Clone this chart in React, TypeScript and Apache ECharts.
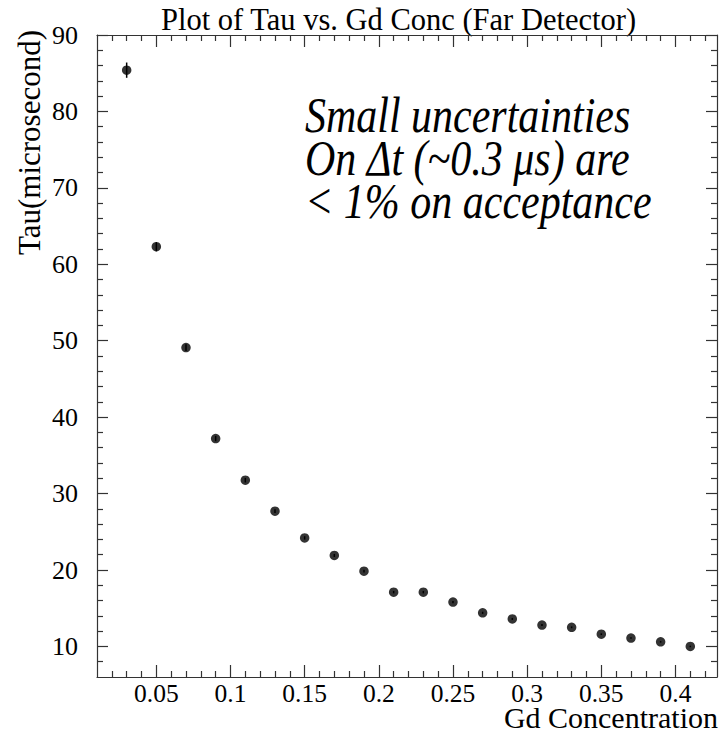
import React, { useEffect, useRef } from "react";
import * as echarts from "echarts";

// Gd concentration (x) and measured capture time Tau in microseconds (y)
const gdConc = [0.03, 0.05, 0.07, 0.09, 0.11, 0.13, 0.15, 0.17, 0.19, 0.21, 0.23, 0.25, 0.27, 0.29, 0.31, 0.33, 0.35, 0.37, 0.39, 0.41];
const tau = [85.4, 62.3, 49.1, 37.2, 31.75, 27.7, 24.2, 21.9, 19.85, 17.1, 17.1, 15.8, 14.4, 13.6, 12.8, 12.5, 11.6, 11.1, 10.6, 10.0];
const tauErr = [1.0, 0.6, 0.45, 0.35, 0.3, 0.25, 0.22, 0.2, 0.18, 0.16, 0.16, 0.15, 0.14, 0.13, 0.12, 0.12, 0.11, 0.1, 0.1, 0.1];

// Axis ranges and labelled tick values
const xRange = [0.01, 0.428];
const yRange = [6, 90];
const xMajorTicks = [0.05, 0.1, 0.15, 0.2, 0.25, 0.3, 0.35, 0.4];
const yMajorTicks = [10, 20, 30, 40, 50, 60, 70, 80, 90];

const titleText = "Plot of Tau vs. Gd Conc (Far Detector)";
const xTitle = "Gd Concentration";
const yTitle = "Tau(microsecond)";
const noteLines = ["Small uncertainties", "On \u0394t (~0.3 \u03bcs) are", "< 1% on acceptance"];

const FONT = "'Liberation Serif', 'Times New Roman', serif";
const AXIS_COLOR = "#333";

// minor ticks: every 0.01 on x, every 2 on y, skipping the labelled ones
const xMinorTicks: number[] = [];
for (let k = 2; k <= 42; k++) {
  if (k % 5 !== 0) xMinorTicks.push(k / 100);
}
const yMinorTicks: number[] = [];
for (let v = 8; v < 90; v += 2) {
  if (v % 10 !== 0) yMinorTicks.push(v);
}

function makeAxis(
  dim: "x" | "y",
  position: string,
  ticks: number[],
  tickLen: number,
  showLine: boolean,
  labels: number[] | null
) {
  const range = dim === "x" ? xRange : yRange;
  return {
    type: "value",
    position,
    min: range[0],
    max: range[1],
    splitLine: { show: false },
    axisLine: { show: showLine, onZero: false, lineStyle: { color: AXIS_COLOR, width: 1.2 } },
    axisTick: {
      show: true,
      inside: true,
      length: tickLen,
      customValues: ticks,
      lineStyle: { color: AXIS_COLOR, width: 1.2 },
    },
    axisLabel: labels
      ? {
          show: true,
          customValues: labels,
          margin: dim === "x" ? 6 : 19,
          color: "#000",
          fontFamily: FONT,
          fontSize: dim === "x" ? 25.5 : 26,
          lineHeight: dim === "x" ? 20 : 26,
          formatter: (v: number) => String(v),
        }
      : { show: false },
  };
}

export default function App() {
  const ref = useRef<HTMLDivElement>(null);

  useEffect(() => {
    if (!ref.current) return;
    const chart = echarts.init(ref.current, null, { renderer: "svg" });

    const noteFont = 42;
    const noteScaleY = 1.22;
    const noteBaselines = [132, 175, 218];

    const option: any = {
      animation: false,
      backgroundColor: "#fff",
      grid: {
        left: 97,
        right: 9,
        top: 35,
        bottom: 58,
        containLabel: false,
        outerBoundsMode: "none",
      },
      xAxis: [
        makeAxis("x", "bottom", xMajorTicks, 12, true, xMajorTicks),
        makeAxis("x", "bottom", xMinorTicks, 6, false, null),
        makeAxis("x", "top", xMajorTicks, 12, true, null),
        makeAxis("x", "top", xMinorTicks, 6, false, null),
      ],
      yAxis: [
        makeAxis("y", "left", yMajorTicks, 11, true, yMajorTicks),
        makeAxis("y", "left", yMinorTicks, 6, false, null),
        makeAxis("y", "right", yMajorTicks, 11, true, null),
        makeAxis("y", "right", yMinorTicks, 6, false, null),
      ],
      series: [
        {
          type: "custom",
          xAxisIndex: 0,
          yAxisIndex: 0,
          data: gdConc.map((x, i) => [x, tau[i], tauErr[i]]),
          renderItem: (_params: any, api: any) => {
            const x = api.value(0);
            const y = api.value(1);
            const e = api.value(2);
            const hi = api.coord([x, y + e]);
            const lo = api.coord([x, y - e]);
            return {
              type: "line",
              shape: { x1: hi[0], y1: hi[1], x2: lo[0], y2: lo[1] },
              style: { stroke: "#000", lineWidth: 1.5 },
            };
          },
          silent: true,
          z: 2,
        },
        {
          type: "scatter",
          xAxisIndex: 0,
          yAxisIndex: 0,
          data: gdConc.map((x, i) => [x, tau[i]]),
          symbol: "circle",
          symbolSize: 9.5,
          itemStyle: { color: "#000" },
          z: 3,
        },
      ],
      graphic: [
        {
          type: "text",
          x: 161,
          y: 20,
          style: {
            text: titleText,
            font: `30.5px ${FONT}`,
            fill: "#000",
            align: "left",
            verticalAlign: "middle",
          },
        },
        {
          type: "text",
          x: 718,
          y: 717,
          style: {
            text: xTitle,
            font: `30px ${FONT}`,
            lineHeight: 22,
            fill: "#000",
            align: "right",
            verticalAlign: "middle",
          },
        },
        {
          type: "text",
          x: 29.5,
          y: 30,
          rotation: Math.PI / 2,
          style: {
            text: yTitle,
            font: `31px ${FONT}`,
            fill: "#000",
            align: "right",
            verticalAlign: "middle",
          },
        },
        ...noteLines.map((line, i) => ({
          type: "text",
          x: 305,
          y: noteBaselines[i] - 0.3375 * noteFont * noteScaleY,
          scaleY: noteScaleY,
          style: {
            text: line,
            font: `italic ${noteFont}px ${FONT}`,
            fill: "#000",
            align: "left",
            verticalAlign: "middle",
          },
        })),
      ],
    };

    chart.setOption(option);
    return () => chart.dispose();
  }, []);

  return (
    <div
      ref={ref}
      style={{ position: "absolute", left: 0, top: 0, width: 726, height: 735 }}
    />
  );
}
